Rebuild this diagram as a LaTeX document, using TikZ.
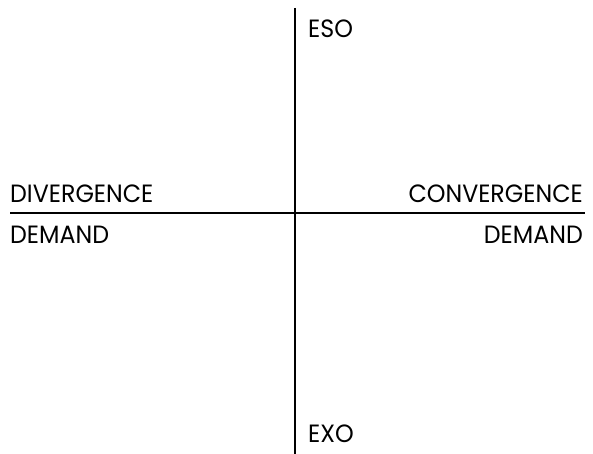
\documentclass[tikz,border=0pt]{standalone}
\usepackage{fontspec}
\setmainfont{Poppins}[FakeStretch=0.95]
\usetikzlibrary{positioning}
\begin{document}
\begin{tikzpicture}[
  x=1pt,y=-1pt,
  line cap=butt,
  axis/.style={draw=black,line width=2.4pt},
  lbl/.style={inner sep=0pt,font=\fontsize{25}{25}\selectfont}
]
  \useasboundingbox (0,0) rectangle (593,454);

  % Axes
  \coordinate (top)   at (295,8);
  \coordinate (bot)   at (295,454);
  \coordinate (left)  at (10,213);
  \coordinate (right) at (585,213);
  \draw[axis] (top) -- (bot);
  \draw[axis] (left) -- (right);

  % Labels
  \node[lbl,anchor=base west] (eso) at (308,38) {ESO};
  \node[lbl,anchor=base west] (exo) at (308,442) {EXO};
  \node[lbl,anchor=base west] (div) at (10,203) {DIVERGENCE};
  \node[lbl,anchor=base west] (divdem) at (10,243) {DEMAND};
  \node[lbl,anchor=base east] (conv) at (583,203) {CONVERGENCE};
  \node[lbl,anchor=base east] (convdem) at (583,243) {DEMAND};
\end{tikzpicture}
\end{document}
